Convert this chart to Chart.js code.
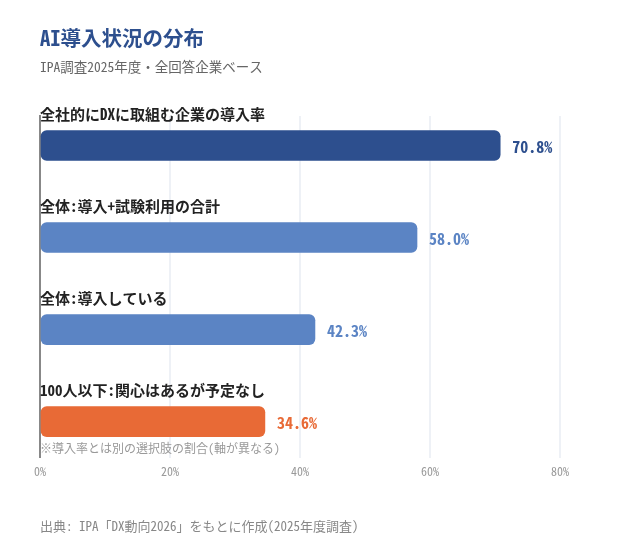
<!DOCTYPE html>
<html>
<head>
<meta charset="utf-8">
<script src="https://cdn.jsdelivr.net/npm/chart.js@4"></script>
<style>
  body { margin: 0; background: #fff; font-family: 'Noto Sans Mono CJK JP', 'Noto Sans CJK JP', monospace; }
  #wrap { position: relative; width: 620px; height: 560px; }
  #chart { position: absolute; left: 0; top: 0; }
  .title { position: absolute; left: 40px; top: 22px; font-size: 20.5px; font-weight: bold; color: #2d4f8e; }
  .sub { position: absolute; left: 40px; top: 56px; font-size: 13.5px; color: #666; }
  .src { position: absolute; left: 40px; top: 516px; font-size: 13px; color: #888; }
</style>
</head>
<body>
<div id="wrap">
  <canvas id="chart" width="620" height="560"></canvas>
  <div class="title">AI導入状況の分布</div>
  <div class="sub">IPA調査2025年度・全回答企業ベース</div>
  <div class="src">出典: IPA「DX動向2026」をもとに作成(2025年度調査)</div>
</div>
<script>
const categories = ['全社的にDXに取組む企業の導入率', '全体:導入+試験利用の合計', '全体:導入している', '100人以下:関心はあるが予定なし'];
const values = [70.8, 58.0, 42.3, 34.6];
const barColors = ['#2d4f8e', '#5b84c4', '#5b84c4', '#e86a36'];
const xTicks = [0, 20, 40, 60, 80];
const note = '※導入率とは別の選択肢の割合(軸が異なる)';

const FONT = "'Noto Sans Mono CJK JP', 'Noto Sans CJK JP', monospace";

const labelPlugin = {
    id: 'barLabels',
    afterDatasetsDraw(chart) {
        const ctx = chart.ctx;
        const meta = chart.getDatasetMeta(0);
        ctx.save();
        ctx.textBaseline = 'middle';
        meta.data.forEach(function (bar, i) {
            // category name above the bar
            ctx.font = 'bold 15px ' + FONT;
            ctx.fillStyle = '#222';
            ctx.textAlign = 'left';
            ctx.fillText(categories[i], chart.chartArea.left, bar.y - 31);
            // value to the right
            ctx.font = 'bold 16px ' + FONT;
            ctx.fillStyle = barColors[i];
            ctx.fillText(values[i].toFixed(1) + '%', bar.x + 12, bar.y + 1);
        });
        const last = meta.data[meta.data.length - 1];
        ctx.font = '12px ' + FONT;
        ctx.fillStyle = '#999';
        ctx.fillText(note, chart.chartArea.left, last.y + 27);
        ctx.restore();
    }
};

const ctx = document.getElementById('chart').getContext('2d');
new Chart(ctx, {
    type: 'bar',
    data: {
        datasets: [{
            data: values.map(function (v, i) { return { x: v, y: i }; }),
            backgroundColor: barColors,
            borderRadius: 6,
            borderSkipped: false,
            barThickness: 30
        }]
    },
    options: {
        indexAxis: 'y',
        responsive: false,
        animation: false,
        layout: { padding: { left: 40, right: 60, top: 116, bottom: 74 } },
        plugins: { legend: { display: false }, tooltip: { enabled: false } },
        scales: {
            x: {
                type: 'linear',
                min: xTicks[0],
                max: xTicks[xTicks.length - 1],
                afterBuildTicks: function (axis) { axis.ticks = xTicks.map(function (v) { return { value: v }; }); },
                grid: { color: '#eef1f6', lineWidth: 2, drawTicks: false },
                border: { display: false },
                ticks: {
                    padding: 7,
                    color: '#999',
                    font: { family: FONT, size: 12 },
                    callback: function (v) { return v + '%'; }
                }
            },
            y: {
                type: 'linear',
                reverse: true,
                offset: false,
                bounds: 'data',
                min: -0.32,
                max: 3.39,
                grid: { display: false, drawTicks: false, offset: false },
                ticks: { display: false },
                border: { color: '#888', width: 2 }
            }
        }
    },
    plugins: [labelPlugin]
});
</script>
</body>
</html>
